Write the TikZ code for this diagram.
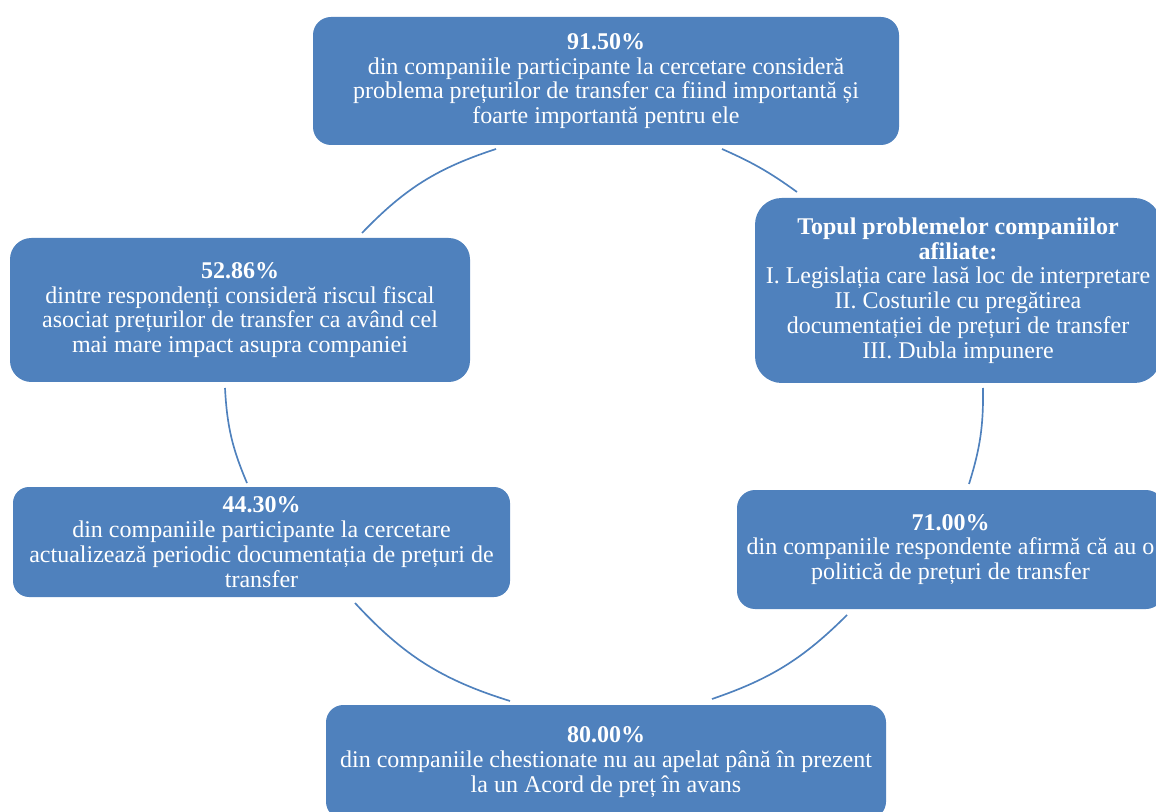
\documentclass[tikz,border=0pt]{standalone}
\usepackage{fontspec}
\setmainfont{Liberation Serif}
\definecolor{boxblue}{RGB}{79,129,189}
\begin{document}
\begin{tikzpicture}[x=0.75pt,y=-0.75pt,
  card/.style={fill=boxblue,draw=none,text=white,align=center,inner sep=0pt,
    font=\fontsize{18pt}{18.6pt}\selectfont},
  link/.style={draw=boxblue,line width=1.25pt}]
\useasboundingbox (0,0) rectangle (1156,812);
\clip (0,0) rectangle (1156,812);
\node[card,minimum width=439.5pt,minimum height=96pt,rounded corners=13.5pt] (top) at (606,81)
  {\textbf{91.50\%}\\din companiile participante la cercetare consideră\\problema prețurilor de transfer ca fiind importantă și\\foarte importantă pentru ele};
\node[card,minimum width=304.5pt,minimum height=138.75pt,rounded corners=20pt] (rtop) at (958,290.5)
  {\textbf{Topul problemelor companiilor}\\\textbf{afiliate:}\\I. Legislația care lasă loc de interpretare\\II. Costurile cu pregătirea\\documentației de prețuri de transfer\\III. Dubla impunere};
\node[card,minimum width=320.25pt,minimum height=89.25pt,rounded corners=13.5pt] (rbot) at (950.5,549.5)
  {\textbf{71.00\%}\\din companiile respondente afirmă că au o\\politică de prețuri de transfer};
\node[card,minimum width=420pt,minimum height=85.5pt,rounded corners=13pt] (bot) at (606,762)
  {\textbf{80.00\%}\\din companiile chestionate nu au apelat până în prezent\\la un Acord de preț în avans};
\node[card,minimum width=372.75pt,minimum height=82.5pt,rounded corners=12pt] (lbot) at (261.5,542)
  {\textbf{44.30\%}\\din companiile participante la cercetare\\actualizează periodic documentația de prețuri de\\transfer};
\node[card,minimum width=345pt,minimum height=108pt,rounded corners=16pt] (ltop) at (240,310)
  {\textbf{52.86\%}\\dintre respondenți consideră riscul fiscal\\asociat prețurilor de transfer ca având cel\\mai mare impact asupra companiei};
% connector end points
\coordinate (b1) at (722,149); \coordinate (b2) at (797,192);
\coordinate (c1) at (983,388); \coordinate (c2) at (969,484);
\coordinate (e1) at (847,615); \coordinate (e2) at (712,699);
\coordinate (f1) at (510,701); \coordinate (f2) at (355,603);
\coordinate (d1) at (247,483); \coordinate (d2) at (225,388);
\coordinate (a1) at (362,233); \coordinate (a2) at (496,149);
\draw[link] (b1) to[bend left=6] (b2);
\draw[link] (c1) to[bend left=9] (c2);
\draw[link] (e1) to[bend left=13] (e2);
\draw[link] (f1) to[bend left=15] (f2);
\draw[link] (d1) to[bend left=10] (d2);
\draw[link] (a1) to[bend left=14] (a2);
\end{tikzpicture}
\end{document}
